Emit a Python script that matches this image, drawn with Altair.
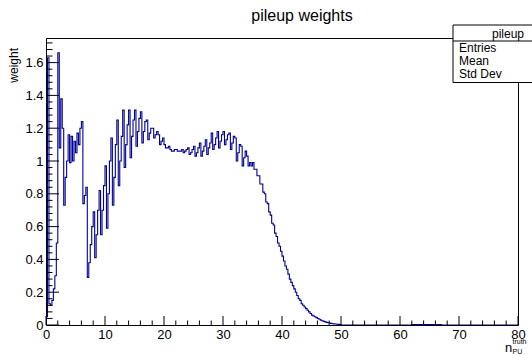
import altair as alt
import pandas as pd

# ---------------- data ----------------
bin_width = 0.25
# weights for bins starting at 0, 0.25, 0.5, ... up to 50 (4 bins per unit)
weights_main = [
    0.05, 1.63, 0.13, 0.12,   # 0
    0.15, 0.22, 0.30, 0.50,   # 1
    1.66, 1.08, 1.38, 1.20,   # 2
    0.73, 0.90, 1.00, 1.16,   # 3
    0.99, 1.15, 1.00, 1.12,   # 4
    1.05, 1.17, 1.10, 1.20,   # 5
    1.24, 0.74, 0.79, 0.84,   # 6
    0.29, 0.38, 0.49, 0.60,   # 7
    0.69, 0.41, 0.55, 0.70,   # 8
    0.82, 0.55, 0.70, 0.85,   # 9
    0.97, 0.59, 0.80, 1.00,   # 10
    1.14, 0.73, 0.90, 1.10,   # 11
    1.25, 0.85, 1.00, 1.15,   # 12
    1.31, 0.96, 1.10, 1.22,   # 13
    1.31, 1.02, 1.15, 1.25,   # 14
    1.31, 1.09, 1.18, 1.26,   # 15
    1.30, 1.11, 1.18, 1.24,   # 16
    1.25, 1.13, 1.17, 1.20,   # 17
    1.20, 1.14, 1.16, 1.18,   # 18
    1.16, 1.10, 1.12, 1.14,   # 19
    1.10, 1.08, 1.08, 1.09,   # 20
    1.07, 1.06, 1.06, 1.07,   # 21
    1.07, 1.06, 1.06, 1.06,   # 22
    1.07, 1.05, 1.06, 1.07,   # 23
    1.08, 1.04, 1.05, 1.07,   # 24
    1.09, 1.03, 1.05, 1.08,   # 25
    1.11, 1.03, 1.06, 1.09,   # 26
    1.13, 1.04, 1.08, 1.11,   # 27
    1.17, 1.07, 1.10, 1.14,   # 28
    1.18, 1.08, 1.12, 1.16,   # 29
    1.18, 1.10, 1.13, 1.16,   # 30
    1.17, 1.07, 1.11, 1.15,   # 31
    1.14, 1.00, 1.05, 1.10,   # 32
    1.09, 0.97, 1.02, 1.06,   # 33
    1.03, 0.97, 0.99, 0.97,   # 34
    0.99, 0.95, 0.95, 0.91,   # 35
    0.91, 0.86, 0.86, 0.81,   # 36
    0.80, 0.75, 0.74, 0.69,   # 37
    0.67, 0.62, 0.61, 0.56,   # 38
    0.54, 0.50, 0.48, 0.45,   # 39
    0.42, 0.39, 0.36, 0.34,   # 40
    0.31, 0.28, 0.26, 0.24,   # 41
    0.22, 0.20, 0.18, 0.16,   # 42
    0.15, 0.13, 0.12, 0.11,   # 43
    0.10, 0.09, 0.08, 0.07,   # 44
    0.06, 0.055, 0.05, 0.045, # 45
    0.04, 0.035, 0.03, 0.026, # 46
    0.022, 0.019, 0.016, 0.014,  # 47
    0.012, 0.010, 0.008, 0.007,  # 48
    0.006, 0.005, 0.004, 0.003,  # 49
]
# small tail between 62 and 67
tail_start = 62.0
weights_tail = [0.003, 0.003, 0.003, 0.003, 0.003, 0.003, 0.003, 0.003, 0.003, 0.003,
                0.003, 0.003, 0.003, 0.003, 0.003, 0.003, 0.003, 0.003, 0.003, 0.003]
x_min, x_max = 0.0, 80.0
y_min, y_max = 0.0, 1.75

x_major = [0, 10, 20, 30, 40, 50, 60, 70, 80]
x_minor = [2, 4, 6, 8, 12, 14, 16, 18, 22, 24, 26, 28, 32, 34, 36, 38, 42, 44, 46, 48,
           52, 54, 56, 58, 62, 64, 66, 68, 72, 74, 76, 78]
y_major = [0, 0.2, 0.4, 0.6, 0.8, 1.0, 1.2, 1.4, 1.6]
y_minor = [0.04, 0.08, 0.12, 0.16, 0.24, 0.28, 0.32, 0.36, 0.44, 0.48, 0.52, 0.56,
           0.64, 0.68, 0.72, 0.76, 0.84, 0.88, 0.92, 0.96, 1.04, 1.08, 1.12, 1.16,
           1.24, 1.28, 1.32, 1.36, 1.44, 1.48, 1.52, 1.56, 1.64, 1.68, 1.72]

title_text = "pileup weights"
y_title = "weight"
stats_name = "pileup"
stats_rows = ["Entries", "Mean", "Std Dev"]

# ---------------- build histogram outline ----------------
rows = [{"x": 0.0, "w": 0.0}]
for i, v in enumerate(weights_main):
    rows.append({"x": i * bin_width, "w": v})
main_end = len(weights_main) * bin_width
rows.append({"x": main_end, "w": 0.0})
for i, v in enumerate(weights_tail):
    rows.append({"x": tail_start + i * bin_width, "w": v})
rows.append({"x": tail_start + len(weights_tail) * bin_width, "w": 0.0})
rows.append({"x": x_max, "w": 0.0})
hist_df = pd.DataFrame(rows)

W, H = 472, 287
FONT = "Liberation Sans"
x_scale = alt.Scale(domain=[x_min, x_max], nice=False, zero=False)
y_scale = alt.Scale(domain=[y_min, y_max], nice=False)
x_axis = alt.Axis(
    values=x_major, ticks=False, grid=False, domain=False, title=None,
    labelFont=FONT, labelFontSize=13, labelColor="black", labelPadding=3,
    format="d", labelFlush=False, labelOverlap=False)
y_axis = alt.Axis(
    values=y_major, ticks=False, grid=False, domain=False, title=None,
    labelFont=FONT, labelFontSize=13, labelColor="black", labelPadding=3,
    format="~g", labelFlush=False, labelOverlap=False)

line = alt.Chart(hist_df).mark_line(
    interpolate="step-after", color="#000099", strokeWidth=1.1, clip=True
).encode(
    x=alt.X("x:Q", scale=x_scale, axis=x_axis),
    y=alt.Y("w:Q", scale=y_scale, axis=y_axis),
)

xmaj = alt.Chart(pd.DataFrame({"x": x_major})).mark_rule(color="black", strokeWidth=1).encode(
    x=alt.X("x:Q", scale=x_scale, axis=x_axis), y=alt.value(H), y2=alt.value(H - 9))
xmin = alt.Chart(pd.DataFrame({"x": x_minor})).mark_rule(color="black", strokeWidth=1).encode(
    x=alt.X("x:Q", scale=x_scale, axis=x_axis), y=alt.value(H), y2=alt.value(H - 4.5))
ymaj = alt.Chart(pd.DataFrame({"y": y_major})).mark_rule(color="black", strokeWidth=1).encode(
    y=alt.Y("y:Q", scale=y_scale, axis=y_axis), x=alt.value(0), x2=alt.value(13))
ymin = alt.Chart(pd.DataFrame({"y": y_minor})).mark_rule(color="black", strokeWidth=1).encode(
    y=alt.Y("y:Q", scale=y_scale, axis=y_axis), x=alt.value(0), x2=alt.value(6.5))


def label(text, x, y, size, align="left", angle=0, baseline="alphabetic"):
    return alt.Chart(pd.DataFrame({"t": [text]})).mark_text(
        font=FONT, fontSize=size, align=align, baseline=baseline, angle=angle,
        color="black"
    ).encode(text="t:N", x=alt.value(x), y=alt.value(y))


title = label(title_text, 256, -17, 16, align="center")
ytitle = label(y_title, -32, 10, 12, align="right", angle=270, baseline="middle")
xt_n = label("n", 459, 314, 13)
xt_sup = label("truth", 466.5, 305.5, 7)
xt_sub = label("PU", 466.5, 316, 7)

box = alt.Chart(pd.DataFrame({"a": [0]})).mark_rect(
    fill="white", stroke="black", strokeWidth=1
).encode(x=alt.value(407), x2=alt.value(492), y=alt.value(-13), y2=alt.value(44.5))
box_sep = alt.Chart(pd.DataFrame({"a": [0]})).mark_rule(color="black", strokeWidth=1).encode(
    x=alt.value(407), x2=alt.value(492), y=alt.value(3), y2=alt.value(3))
box_head = label(stats_name, 478, 0, 12, align="right")
box_r1 = label(stats_rows[0], 413, 14, 12)
box_r2 = label(stats_rows[1], 413, 27, 12)
box_r3 = label(stats_rows[2], 413, 40, 12)

chart = alt.layer(
    line, xmaj, xmin, ymaj, ymin, title, ytitle, xt_n, xt_sup, xt_sub,
    box, box_sep, box_head, box_r1, box_r2, box_r3
).properties(
    width=W, height=H,
    padding={"left": 46, "top": 38, "right": 14, "bottom": 30},
    autosize=alt.AutoSizeParams(type="none"),
    background="white",
).configure_view(stroke="black", strokeWidth=1)

chart.save("out.html", embed_options={"renderer": "svg", "actions": False})
